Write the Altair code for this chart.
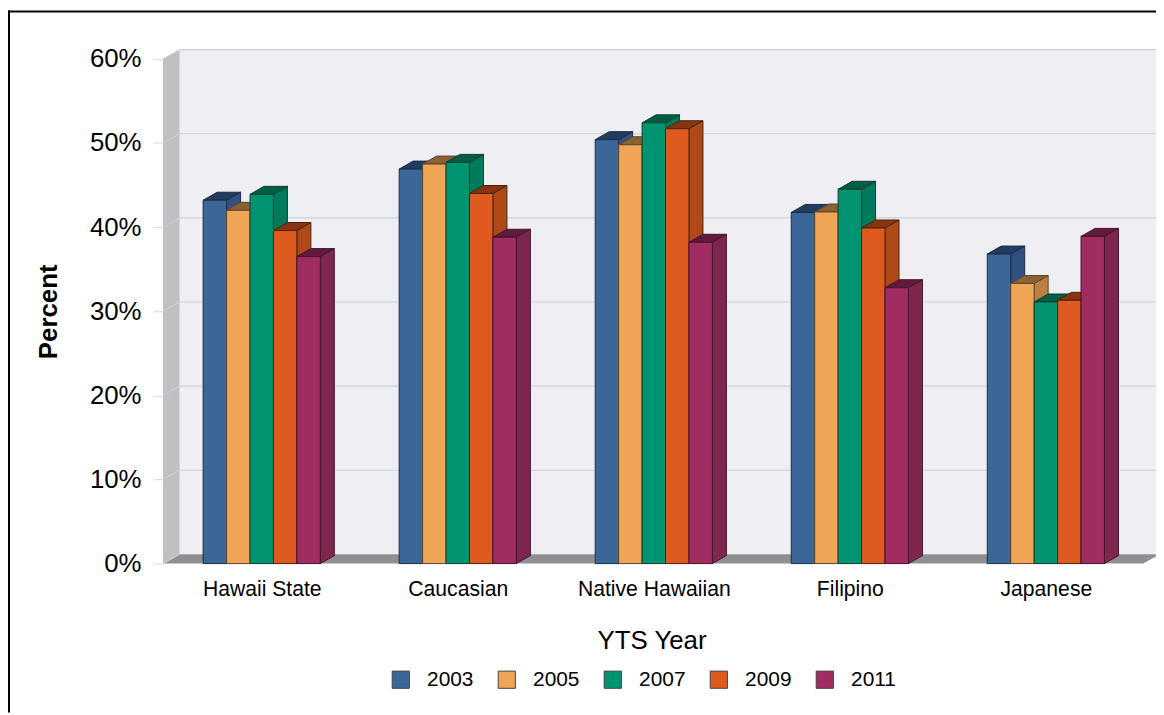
import altair as alt
import pandas as pd

groups = ["Hawaii State", "Caucasian", "Native Hawaiian", "Filipino", "Japanese"]
years = ["2003", "2005", "2007", "2009", "2011"]
v2003 = [43.2, 46.9, 50.4, 41.75, 36.8]
v2005 = [42.0, 47.5, 49.8, 41.8, 33.3]
v2007 = [43.9, 47.7, 52.4, 44.5, 31.1]
v2009 = [39.6, 44.0, 51.7, 39.9, 31.3]
v2011 = [36.5, 38.8, 38.2, 32.8, 38.9]
series = [v2003, v2005, v2007, v2009, v2011]
y_ticks = [0, 10, 20, 30, 40, 50, 60]

front_colors = ["#3B6698", "#F0A455", "#009570", "#DE5A1E", "#A12C62"]
side_colors = ["#2E5180", "#BC8140", "#007A5C", "#AF4A18", "#7E264E"]
top_colors = ["#213C60", "#8C6130", "#005E45", "#863412", "#611A3B"]
edge_colors = ["#1C2C44", "#5A4632", "#123A30", "#4A2412", "#45142C"]

# layout, in plot-scale units (x: pixels of the plot, y: percent)
PX_PER_PCT = 8.47
PLOT_W, PLOT_H = 1000, 517
FLOOR_W = 987
WALL_DX, WALL_DY = 16.8, 1.1
BAR_DX, BAR_DY = 14.1, 0.95
G0, GSTEP, BW = 40.5, 197.4, 23.6

font = "Liberation Sans"
xs = alt.Scale(domain=[0, PLOT_W], nice=False, zero=False)
ys = alt.Scale(domain=[0, PLOT_H / PX_PER_PCT], nice=False, zero=False)

centres = [G0 + GSTEP * i + 2.5 * BW for i in range(len(groups))]
names_js = "[" + ",".join("'%s'" % g for g in groups) + "]"
x_axis = alt.Axis(
    values=centres, domain=False, ticks=False, grid=False,
    labelExpr=f"{names_js}[round((datum.value-{centres[0]})/{GSTEP})]",
    labelFont=font, labelFontSize=21.3, labelColor="#000", labelPadding=15,
    labelFlush=False, labelOverlap=False,
    titleFont=font, titleFontSize=26, titleFontWeight="normal", titleColor="#000",
    titleX=492, titleY=64, titleAnchor="middle",
)
y_axis = alt.Axis(
    values=y_ticks, domain=False, grid=False, tickColor="#D8D8E4", tickSize=10,
    labelExpr="datum.value + '%'", labelFont=font, labelFontSize=26, labelColor="#000",
    labelPadding=12,
    titleFont=font, titleFontSize=26, titleFontWeight="bold", titleColor="#000",
    titleX=-102, titleY=263, titleAnchor="middle",
)


def X(f):
    return alt.X(f + ":Q", scale=xs, axis=x_axis, title="YTS Year")


def Y(f):
    return alt.Y(f + ":Q", scale=ys, axis=y_axis, title="Percent")


def X2(f):
    return alt.X2(f)


def Y2(f):
    return alt.Y2(f)


layers = []

# Back wall
wall = pd.DataFrame({"x": [WALL_DX], "x2": [FLOOR_W + WALL_DX], "y": [WALL_DY], "y2": [60 + WALL_DY]})
layers.append(
    alt.Chart(wall).mark_rect(color="#EEEEF3").encode(x=X("x"), x2=X2("x2"), y=Y("y"), y2=Y2("y2"))
)

# Left wall
ts = [0, 1]
lw = pd.DataFrame({
    "x": [t * WALL_DX for t in ts],
    "y": [t * WALL_DY for t in ts],
    "y2": [60 + t * WALL_DY for t in ts],
})
layers.append(alt.Chart(lw).mark_area(color="#C0C0C2").encode(x=X("x"), y=Y("y"), y2=Y2("y2")))

# Floor
fl = pd.DataFrame({
    "y": [t * WALL_DY for t in ts],
    "x": [t * WALL_DX for t in ts],
    "x2": [FLOOR_W + t * WALL_DX for t in ts],
})
layers.append(alt.Chart(fl).mark_area(color="#8F8F91", orient="horizontal").encode(y=Y("y"), x=X("x"), x2=X2("x2")))

# Gridlines: back wall and left wall
gb = pd.DataFrame({"v": y_ticks[1:]})
gb["y"] = gb.v + WALL_DY
gb["x"] = WALL_DX
gb["x2"] = FLOOR_W + WALL_DX
layers.append(
    alt.Chart(gb).mark_rule(color="#CFCFDC", strokeWidth=1.2).encode(x=X("x"), x2=X2("x2"), y=Y("y"))
)
gs = pd.DataFrame([
    {"v": v, "x": t * WALL_DX, "y": v + t * WALL_DY} for v in y_ticks for t in ts
])
layers.append(
    alt.Chart(gs).mark_line(color="#D0D0DC", strokeWidth=1).encode(x=X("x"), y=Y("y"), detail="v:N")
)

# Bars: painter's order, one series at a time
for si, (yr, vals) in enumerate(zip(years, series)):
    rows = []
    for gi, v in enumerate(vals):
        left = G0 + GSTEP * gi + BW * si
        rows.append({"g": groups[gi], "year": yr, "value": v, "left": left, "right": left + BW, "base": 0})
    front = pd.DataFrame(rows)
    side = pd.DataFrame([
        {"g": r["g"], "x": r["right"] + t * BAR_DX, "y": r["value"] + t * BAR_DY, "y2": t * BAR_DY}
        for r in rows for t in ts
    ])
    top = pd.DataFrame([
        {"g": r["g"], "y": r["value"] + t * BAR_DY, "x": r["left"] + t * BAR_DX, "x2": r["right"] + t * BAR_DX}
        for r in rows for t in ts
    ])
    edge = edge_colors[si]
    layers.append(
        alt.Chart(side).mark_area(color=side_colors[si], stroke=edge, strokeWidth=1).encode(
            x=X("x"), y=Y("y"), y2=Y2("y2"), detail="g:N"
        )
    )
    layers.append(
        alt.Chart(top).mark_area(color=top_colors[si], stroke=edge, strokeWidth=1, orient="horizontal").encode(
            y=Y("y"), x=X("x"), x2=X2("x2"), detail="g:N"
        )
    )
    layers.append(
        alt.Chart(front).mark_bar(stroke=edge, strokeWidth=1).encode(
            x=X("left"), x2=X2("right"), y=Y("value"), y2=Y2("base"),
            color=alt.Color(
                "year:N",
                scale=alt.Scale(domain=years, range=front_colors),
                legend=alt.Legend(
                    title=None, orient="none", legendX=229, legendY=623, direction="horizontal",
                    columns=5, columnPadding=21.75, symbolType="square", symbolSize=300,
                    symbolStrokeColor="#444", symbolStrokeWidth=1, symbolOpacity=1,
                    labelFont=font, labelFontSize=21, labelColor="#000", labelOffset=16,
                    padding=0,
                ),
            ),
        )
    )

# Outer frame (top and left edges only)
dummy = pd.DataFrame({"a": [0]})
layers.append(
    alt.Chart(dummy).mark_rule(color="#000", strokeWidth=2).encode(
        x=alt.value(-156), x2=alt.value(PLOT_W), y=alt.value(-39)
    )
)
layers.append(
    alt.Chart(dummy).mark_rule(color="#000", strokeWidth=2).encode(
        x=alt.value(-155), y=alt.value(-40), y2=alt.value(PLOT_H + 150)
    )
)

chart = (
    alt.layer(*layers)
    .properties(
        width=PLOT_W, height=PLOT_H,
        autosize=alt.AutoSizeParams(type="none"),
        padding={"left": 156, "top": 40, "right": 0, "bottom": 150},
        background="#FFFFFF",
    )
    .configure_view(stroke=None)
)

chart.save("out.html", embed_options={"renderer": "svg", "actions": False})
